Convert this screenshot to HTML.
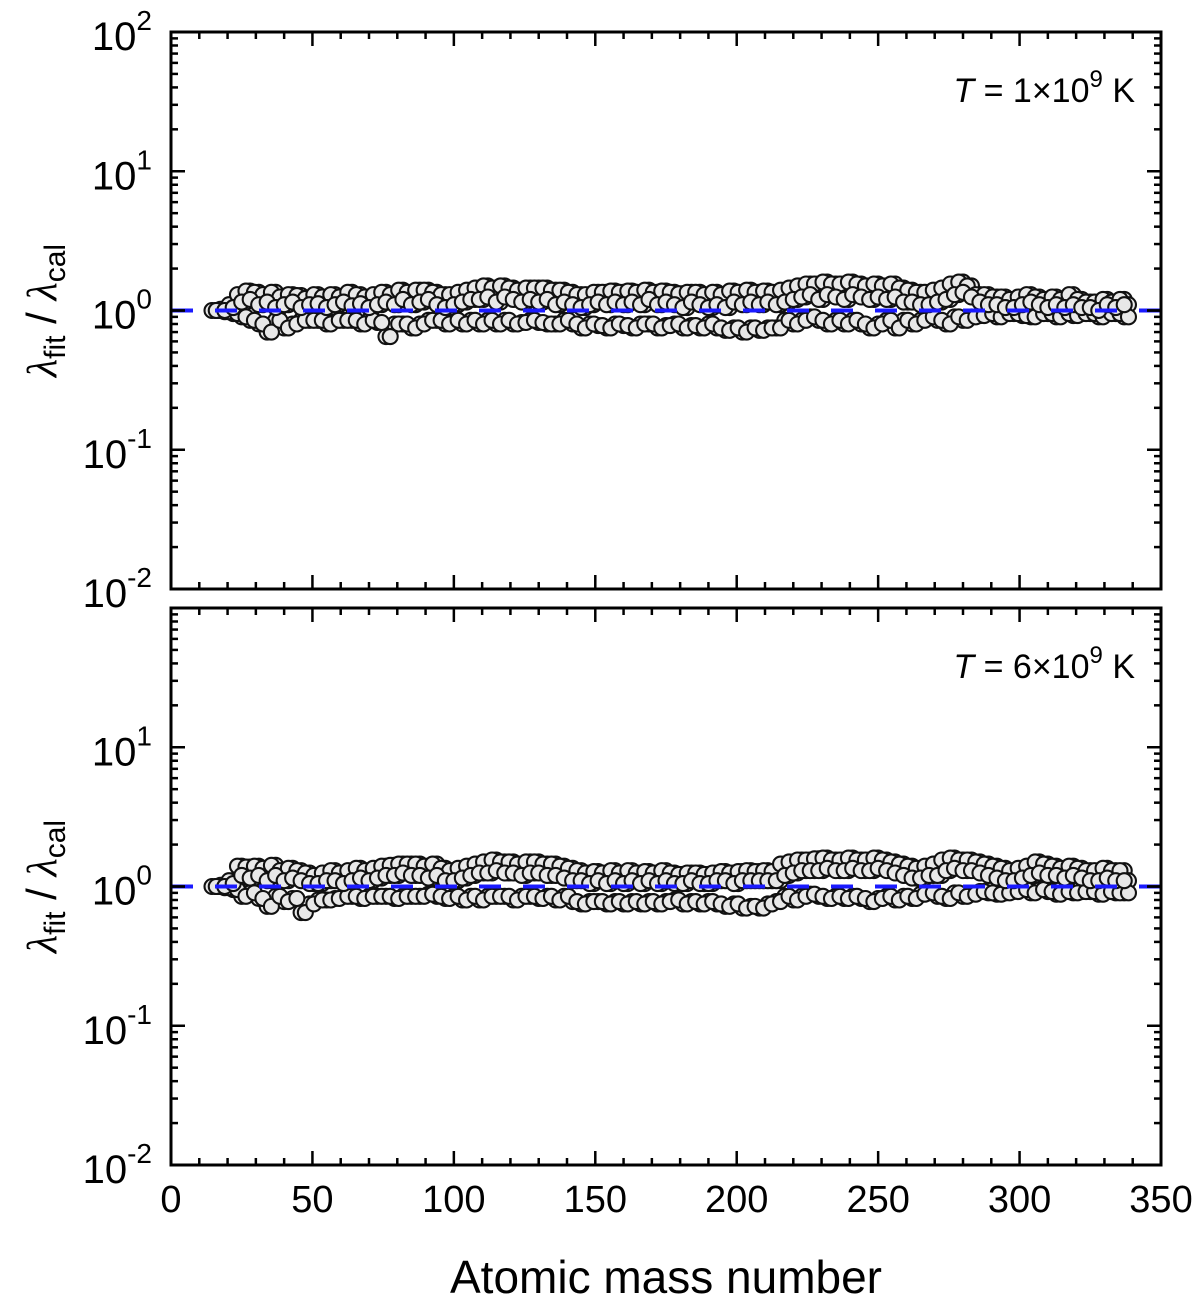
<!DOCTYPE html>
<html><head><meta charset="utf-8"><style>
body{margin:0;background:#fff}
svg text{font-family:"Liberation Sans",Arial,sans-serif;fill:#000}
</style></head><body>
<svg id="chart" width="1200" height="1307" xmlns="http://www.w3.org/2000/svg"></svg>
<script>
const massNumbers=[16,19,22,25,28,31,34,37,40,43,46,49,52,55,58,61,64,67,70,73,76,79,82,85,88,91,94,97,100,103,106,109,112,115,118,121,124,127,130,133,136,139,142,145,148,151,154,157,160,163,166,169,172,175,178,181,184,187,190,193,196,199,202,205,208,211,214,217,220,223,226,229,232,235,238,241,244,247,250,253,256,259,262,265,268,271,274,277,280,283,286,289,292,295,298,301,304,307,310,313,316,319,322,325,328,331,334,337];
const hiTop=[1.0,1.02,1.1,1.3,1.38,1.35,1.3,1.35,1.25,1.3,1.28,1.22,1.3,1.25,1.3,1.25,1.35,1.3,1.25,1.3,1.35,1.3,1.4,1.35,1.4,1.4,1.35,1.3,1.3,1.35,1.4,1.45,1.5,1.45,1.5,1.45,1.4,1.45,1.45,1.45,1.4,1.4,1.35,1.3,1.3,1.35,1.35,1.38,1.35,1.38,1.35,1.4,1.35,1.38,1.35,1.32,1.35,1.35,1.3,1.35,1.3,1.38,1.35,1.4,1.35,1.38,1.35,1.4,1.45,1.5,1.55,1.55,1.6,1.55,1.55,1.6,1.55,1.5,1.55,1.5,1.55,1.45,1.4,1.35,1.35,1.4,1.45,1.55,1.6,1.5,1.3,1.3,1.25,1.25,1.2,1.25,1.3,1.25,1.2,1.25,1.2,1.3,1.2,1.15,1.15,1.2,1.15,1.2];
const midTop=[1.0,1.0,1.05,1.15,1.2,1.1,1.15,1.05,1.1,1.15,1.05,1.1,1.12,1.05,1.1,1.15,1.08,1.12,1.05,1.1,1.15,1.1,1.2,1.1,1.15,1.2,1.1,1.05,1.1,1.15,1.2,1.2,1.25,1.15,1.25,1.2,1.15,1.2,1.15,1.2,1.1,1.15,1.1,1.05,1.1,1.15,1.1,1.15,1.1,1.15,1.1,1.2,1.1,1.15,1.1,1.05,1.15,1.1,1.05,1.1,1.05,1.15,1.1,1.15,1.1,1.15,1.1,1.15,1.2,1.25,1.3,1.2,1.3,1.25,1.2,1.3,1.25,1.2,1.25,1.2,1.25,1.15,1.15,1.1,1.1,1.15,1.2,1.3,1.35,1.25,1.15,1.1,1.1,1.05,1.05,1.1,1.15,1.1,1.05,1.1,1.05,1.1,1.05,1.05,1.0,1.1,1.05,1.1];
const loTop=[1.0,0.98,0.95,0.9,0.85,0.8,0.7,0.85,0.75,0.8,0.85,0.85,0.85,0.8,0.85,0.85,0.85,0.8,0.85,0.82,0.65,0.8,0.8,0.75,0.8,0.85,0.85,0.8,0.85,0.8,0.85,0.8,0.85,0.8,0.85,0.8,0.82,0.85,0.82,0.8,0.8,0.85,0.8,0.75,0.8,0.78,0.75,0.8,0.78,0.75,0.8,0.8,0.75,0.78,0.8,0.75,0.78,0.75,0.8,0.75,0.72,0.75,0.7,0.75,0.72,0.75,0.75,0.85,0.8,0.85,0.9,0.85,0.8,0.85,0.8,0.85,0.8,0.75,0.8,0.85,0.75,0.85,0.8,0.85,0.9,0.85,0.8,0.9,0.85,0.9,0.92,0.95,0.9,0.95,0.95,0.92,0.9,0.95,0.95,0.9,0.95,0.92,0.95,0.95,0.9,0.95,0.95,0.9];
const hiBot=[1.0,1.02,1.1,1.4,1.38,1.4,1.35,1.42,1.3,1.35,1.3,1.25,1.2,1.25,1.3,1.25,1.3,1.35,1.3,1.35,1.4,1.42,1.45,1.45,1.45,1.4,1.45,1.35,1.3,1.35,1.4,1.45,1.5,1.55,1.5,1.5,1.45,1.5,1.5,1.45,1.45,1.4,1.35,1.3,1.25,1.28,1.25,1.3,1.25,1.3,1.25,1.28,1.25,1.3,1.25,1.22,1.25,1.25,1.22,1.25,1.28,1.25,1.28,1.3,1.28,1.3,1.28,1.45,1.5,1.55,1.55,1.58,1.6,1.55,1.55,1.6,1.55,1.55,1.6,1.55,1.5,1.45,1.4,1.35,1.4,1.45,1.55,1.6,1.55,1.55,1.5,1.45,1.4,1.35,1.3,1.35,1.4,1.5,1.45,1.4,1.35,1.4,1.35,1.3,1.3,1.35,1.3,1.3];
const midBot=[1.0,1.0,1.05,1.2,1.15,1.2,1.1,1.2,1.1,1.15,1.1,1.05,1.05,1.1,1.1,1.05,1.1,1.15,1.1,1.15,1.2,1.2,1.25,1.2,1.2,1.15,1.2,1.1,1.1,1.15,1.2,1.25,1.25,1.3,1.25,1.25,1.2,1.25,1.25,1.2,1.2,1.15,1.1,1.1,1.05,1.1,1.05,1.1,1.05,1.1,1.05,1.1,1.05,1.1,1.05,1.05,1.1,1.05,1.05,1.1,1.1,1.05,1.1,1.1,1.1,1.1,1.1,1.2,1.25,1.3,1.3,1.3,1.35,1.3,1.3,1.35,1.3,1.3,1.35,1.3,1.25,1.2,1.15,1.15,1.2,1.2,1.3,1.35,1.3,1.3,1.25,1.2,1.15,1.1,1.1,1.15,1.2,1.25,1.2,1.2,1.15,1.2,1.15,1.1,1.1,1.15,1.1,1.1];
const loBot=[1.0,0.98,0.95,0.85,0.9,0.82,0.72,0.85,0.78,0.82,0.65,0.75,0.8,0.8,0.82,0.85,0.85,0.82,0.85,0.85,0.85,0.82,0.85,0.85,0.85,0.88,0.85,0.82,0.85,0.8,0.85,0.8,0.85,0.85,0.85,0.8,0.85,0.85,0.82,0.85,0.8,0.85,0.78,0.75,0.78,0.78,0.75,0.78,0.75,0.78,0.75,0.78,0.75,0.78,0.8,0.75,0.78,0.75,0.78,0.75,0.72,0.75,0.7,0.72,0.7,0.75,0.78,0.85,0.8,0.85,0.88,0.85,0.82,0.85,0.82,0.85,0.82,0.78,0.82,0.85,0.8,0.85,0.82,0.88,0.9,0.85,0.82,0.9,0.85,0.88,0.92,0.9,0.88,0.9,0.92,0.95,0.9,0.95,0.92,0.88,0.92,0.9,0.92,0.92,0.88,0.92,0.9,0.9];
const xTicks=[0,50,100,150,200,250,300,350];
const yExps=[-2,-1,0,1,2];

const NS='http://www.w3.org/2000/svg';
const svg=document.getElementById('chart');
function el(tag,attrs,parent){const e=document.createElementNS(NS,tag);for(const k in attrs)e.setAttribute(k,attrs[k]);(parent||svg).appendChild(e);return e;}
const X0=171,X1=1161;
const xs=v=>X0+(v/350)*(X1-X0);

const panels=[
 {top:32,bot:589,hi:hiTop,mid:midTop,lo:loTop,label:'1',showTop:true,name:'top'},
 {top:608,bot:1165,hi:hiBot,mid:midBot,lo:loBot,label:'6',showTop:false,name:'bottom'}
];
panels.forEach(p=>{
 const ys=v=>p.bot-(Math.log10(v)+2)/4*(p.bot-p.top);
 const g=el('g',{});
 
 
 const pts=el('g',{},g);
 
 
 const layers=[[p.lo,0],[p.hi,0],[p.mid,1.5],[p.lo,1.5],[p.hi,-1.5],[p.mid,0]];
 layers.forEach(([series,dx])=>{
  const n=Math.min(series.length,massNumbers.length);
  for(let i=0;i<n;i++){
   const c=el('circle',{cx:xs(massNumbers[i]+dx),cy:ys(series[i]),r:7.5,fill:'#e8e8e8',stroke:'#111','stroke-width':2.1},pts);
   
   
  }
 });
 const ref=el('line',{x1:X0,x2:X1,y1:ys(1),y2:ys(1),stroke:'#1a1aff','stroke-width':4,'stroke-dasharray':'22 22'},g);
 
 
 const fr=el('rect',{x:X0,y:p.top,width:X1-X0,height:p.bot-p.top,fill:'none',stroke:'#000','stroke-width':3},g);
 
 
 for(let v=0;v<=350;v+=10){
  const L=v%50===0?14:7;
  el('line',{x1:xs(v),x2:xs(v),y1:p.bot,y2:p.bot-L,stroke:'#000','stroke-width':2.5},g);
  el('line',{x1:xs(v),x2:xs(v),y1:p.top,y2:p.top+L,stroke:'#000','stroke-width':2.5},g);
 }
 for(let e=-2;e<2;e++){
  for(let m=1;m<=10;m++){
   const v=m*Math.pow(10,e);const L=(m===1||m===10)?14:7;
   el('line',{x1:X0,x2:X0+L,y1:ys(v),y2:ys(v),stroke:'#000','stroke-width':2.5},g);
   el('line',{x1:X1,x2:X1-L,y1:ys(v),y2:ys(v),stroke:'#000','stroke-width':2.5},g);
  }
 }
 yExps.forEach(e=>{
  if(e===2&&!p.showTop)return;
  const t=el('text',{x:152,y:ys(Math.pow(10,e))+18,'text-anchor':'end','font-size':40},g);
  
  
  t.innerHTML='10<tspan dy="-20" font-size="28">'+e+'</tspan>';
 });
 const yl=el('text',{transform:`translate(56,${(p.top+p.bot)/2}) rotate(-90)`,'text-anchor':'middle','font-size':42},g);
 
 
 yl.innerHTML='<tspan font-family="Liberation Serif" font-style="italic">λ</tspan><tspan dy="9" font-size="30">fit</tspan><tspan dy="-9"> / </tspan><tspan font-family="Liberation Serif" font-style="italic">λ</tspan><tspan dy="9" font-size="30">cal</tspan>';
 const ann=el('text',{x:1135,y:p.top+70,'text-anchor':'end','font-size':34},g);
 
 
 ann.innerHTML='<tspan font-style="italic">T</tspan> = '+p.label+'×10<tspan dy="-15" font-size="24">9</tspan><tspan dy="15"> K</tspan>';
});
xTicks.forEach(v=>{
 const t=el('text',{x:xs(v),y:1212,'text-anchor':'middle','font-size':38});
 
 
 t.textContent=v;
});
const xt=el('text',{x:666,y:1293,'text-anchor':'middle','font-size':46});


xt.textContent='Atomic mass number';
</script>
</body></html>
